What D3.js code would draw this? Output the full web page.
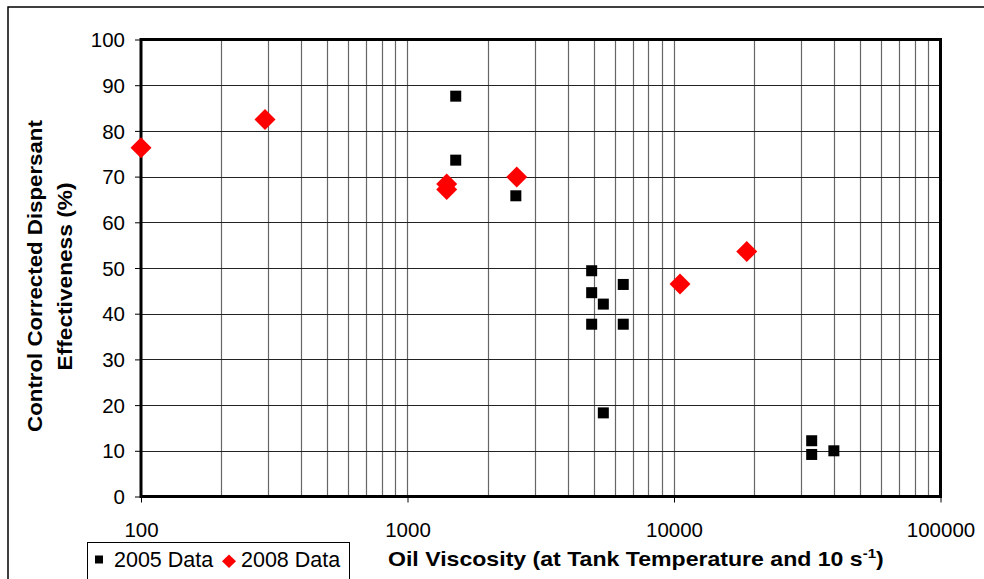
<!DOCTYPE html>
<html><head><meta charset="utf-8">
<script src="https://cdn.jsdelivr.net/npm/d3@7"></script>
<style>body{margin:0;background:#fff}svg{display:block}text{font-family:"Liberation Sans",Arial,sans-serif}</style>
</head><body>
<svg id="c" width="984" height="579"></svg>
<script>
const x2005 = [1517,1517,2550,4910,4910,4910,6450,5430,6450,5430,32860,32860,39800];
const y2005 = [87.6,73.6,65.8,49.4,44.6,37.7,46.4,42.1,37.7,18.3,12.2,9.2,10.0];
const x2008 = [100,292,1403,1403,2570,10530,18750];
const y2008 = [76.3,82.5,68.4,67.2,69.9,46.5,53.6];
const xTicks = [100,1000,10000,100000];
const yTicks = [0,10,20,30,40,50,60,70,80,90,100];
const seriesNames = ["2005 Data","2008 Data"];

const svg = d3.select("#c");
const L=141, R=940.5, T=39.5, B=496.5;
const x = d3.scaleLog().domain([100,100000]).range([L,R]);
const y = d3.scaleLinear().domain([0,100]).range([B,T]);

// outer border
svg.append("rect").attr("x",8).attr("y",7).attr("width",990).attr("height",600)
  .attr("fill","none").attr("stroke","#000").attr("stroke-width",1.5);

// minor vertical grid
const minor = [];
for (let d=100; d<100000; d*=10) for (let k=1;k<10;k++) minor.push(d*k);
svg.append("g").selectAll("line").data(minor.filter(v=>v>100&&v<100000)).join("line")
  .attr("x1",d=>Math.round(x(d))+0.5).attr("x2",d=>Math.round(x(d))+0.5)
  .attr("y1",T).attr("y2",B).attr("stroke","#666").attr("stroke-width",1.2);
// horizontal grid
svg.append("g").selectAll("line").data(yTicks.slice(1,-1)).join("line")
  .attr("x1",L).attr("x2",R).attr("y1",d=>Math.round(y(d))+0.5).attr("y2",d=>Math.round(y(d))+0.5)
  .attr("stroke","#222").attr("stroke-width",1.2);

// axes
const yAx = svg.append("g").attr("transform",`translate(${L},0)`)
  .call(d3.axisLeft(y).tickValues(yTicks).tickSize(6).tickPadding(10).tickFormat(d3.format("d")));
const xAx = svg.append("g").attr("transform",`translate(0,${B})`)
  .call(d3.axisBottom(x).tickValues(xTicks).tickSize(6).tickPadding(20).tickFormat(d3.format("d")));
[yAx,xAx].forEach(g=>{
  g.select(".domain").remove();
  g.selectAll(".tick line").attr("stroke","#000").attr("stroke-width",1);
  g.selectAll(".tick text").attr("fill","#000").style("font-size","20.5px").style("font-family",'"Liberation Sans",Arial,sans-serif');
});
yAx.selectAll(".tick text").attr("dy","0.35em");

// plot frame
svg.append("rect").attr("x",L).attr("y",T).attr("width",R-L).attr("height",B-T)
  .attr("fill","none").attr("stroke","#000").attr("stroke-width",3);

// 2005 squares
const s=11;
svg.append("g").selectAll("rect").data(x2005.map((v,i)=>[v,y2005[i]])).join("rect")
  .attr("x",d=>x(d[0])-s/2).attr("y",d=>y(d[1])-s/2).attr("width",s).attr("height",s).attr("fill","#000");
// 2008 diamonds
const dh=10.5;
svg.append("g").selectAll("path").data(x2008.map((v,i)=>[v,y2008[i]])).join("path")
  .attr("d",d=>{const cx=x(d[0]),cy=y(d[1]);return `M${cx},${cy-dh}L${cx+dh},${cy}L${cx},${cy+dh}L${cx-dh},${cy}Z`;})
  .attr("fill","#ff0000");

// fitted text helper
function fitRot(str, bx, cy, target, fs){
  const t = svg.append("text").attr("text-anchor","middle").style("font-size",fs+"px").style("font-weight","bold").text(str);
  const w = t.node().getComputedTextLength();
  t.attr("transform",`translate(${bx},${cy}) rotate(-90) scale(${target/w},1)`);
}
fitRot("Control Corrected Dispersant", 42, 276, 312, 19.5);
fitRot("Effectiveness (%)", 72, 276.5, 188, 19.5);

// x label
const xl = svg.append("text").style("font-size","20px").style("font-weight","bold");
xl.append("tspan").text("Oil Viscosity (at Tank Temperature and 10 s");
xl.append("tspan").attr("dy",-8).style("font-size","13px").text("-1");
xl.append("tspan").attr("dy",8).text(")");
const xw = xl.node().getBBox().width;
xl.attr("transform",`translate(388,566) scale(${496/xw},1)`);

// legend
svg.append("rect").attr("x",87.5).attr("y",542.5).attr("width",262).attr("height",60)
  .attr("fill","#fff").attr("stroke","#000").attr("stroke-width",1);
svg.append("rect").attr("x",95).attr("y",555.5).attr("width",8).attr("height",8).attr("fill","#000");
svg.append("text").attr("x",114).attr("y",567).style("font-size","21.5px").text(seriesNames[0]);
svg.append("path").attr("d","M229,554.5L236,561.2L229,568L222,561.2Z").attr("fill","#ff0000");
svg.append("text").attr("x",241).attr("y",567).style("font-size","21.5px").text(seriesNames[1]);
</script>
</body></html>
